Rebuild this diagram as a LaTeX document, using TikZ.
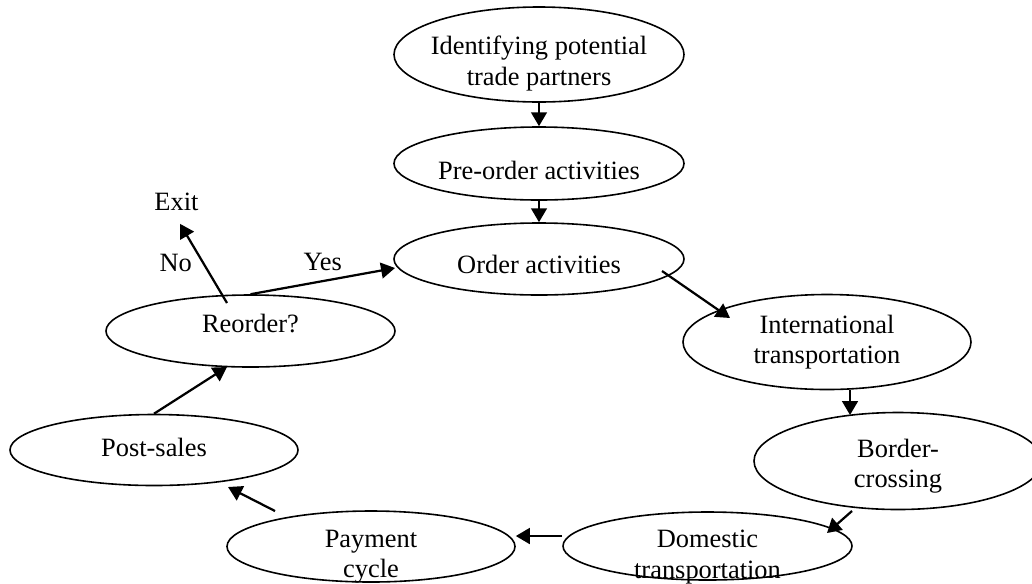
\documentclass[tikz,border=0pt]{standalone}
\usepackage{fontspec}
\setmainfont{Liberation Serif}
\usetikzlibrary{arrows.meta,positioning,calc,shapes.geometric}
\newcommand{\pxu}{0.0165cm}
\newcommand{\stagefont}{\fontsize{12.4}{14.3}\selectfont}
\tikzset{
  >={Triangle[length=2.3mm,width=2.6mm]},
  % stadier
  stage/.style 2 args={ellipse,draw,line width=0.75pt,inner sep=0pt,
             minimum width=#1*\pxu,minimum height=#2*\pxu},
  every label/.style={align=center,inner sep=0pt,font=\stagefont},
  % pilar
  flow/.style={->,line width=1.05pt},
  lbl/.style={inner sep=0pt,font=\stagefont},
}
\begin{document}
\begin{tikzpicture}[x=\pxu,y=-\pxu]
\useasboundingbox (0,0) rectangle (1032,583);
\clip (0,0) rectangle (1032,583);
  \node[stage={290}{95},label={[yshift=-9*\pxu]center:Identifying potential\\trade partners}] (ident) at (539,54.5) {};
  \node[stage={290}{73},label={[yshift=-7*\pxu]center:Pre-order activities}] (pre) at (539,163.5) {};
  \node[stage={290}{72},label={[yshift=-5*\pxu]center:Order activities}] (order) at (539,259) {};
  \node[stage={288}{95},label={center:International\\transportation}] (intl) at (827,342) {};
  \node[stage={288}{97},label={[yshift=-5*\pxu]center:Border-\\crossing}] (border) at (898,461) {};
  \node[stage={289}{68},label={[yshift=-11*\pxu]center:Domestic\\transportation}] (dom) at (707.5,546) {};
  \node[stage={288}{71},label={[yshift=-10*\pxu]center:Payment\\cycle}] (pay) at (371,546.5) {};
  \node[stage={288}{71},label={[yshift=3*\pxu]center:Post-sales}] (post) at (154,450) {};
  \node[stage={289}{72},label={[yshift=7*\pxu]center:Reorder?}] (reord) at (250.5,331) {};
  \node[lbl] (exit) at (176.5,201.5) {Exit};
  % flödet
  \draw[flow] (ident.south) -- (pre.north);
  \draw[flow] (pre.south) -- (order.north);
  \draw[flow] ($(order)+(123,12)$) -- ($(intl)+(-97,-24)$);
  \draw[flow] ($(intl.south)+(23,0)$) -- ($(border)+(-48,-46)$);
  \draw[flow] ($(border)+(-46,50)$) -- ($(dom)+(119.5,-13)$);
  \draw[flow] ($(dom.west)+(0,-10)$) -- ($(pay.east)+(0,-10.5)$);
  \draw[flow] ($(pay)+(-96,-35.5)$) -- ($(post)+(74,37)$);
  \draw[flow] (post.north) -- ($(reord)+(-23.5,36)$);
  \draw[flow] (reord.north) -- node[lbl,above=4.5pt] {Yes} ($(order)+(-144,9)$);
  \draw[flow] ($(reord)+(-23.5,-28)$) -- node[lbl,left=4.9pt] {No} ($(exit.south)+(3.5,13)$);
\end{tikzpicture}
\end{document}
